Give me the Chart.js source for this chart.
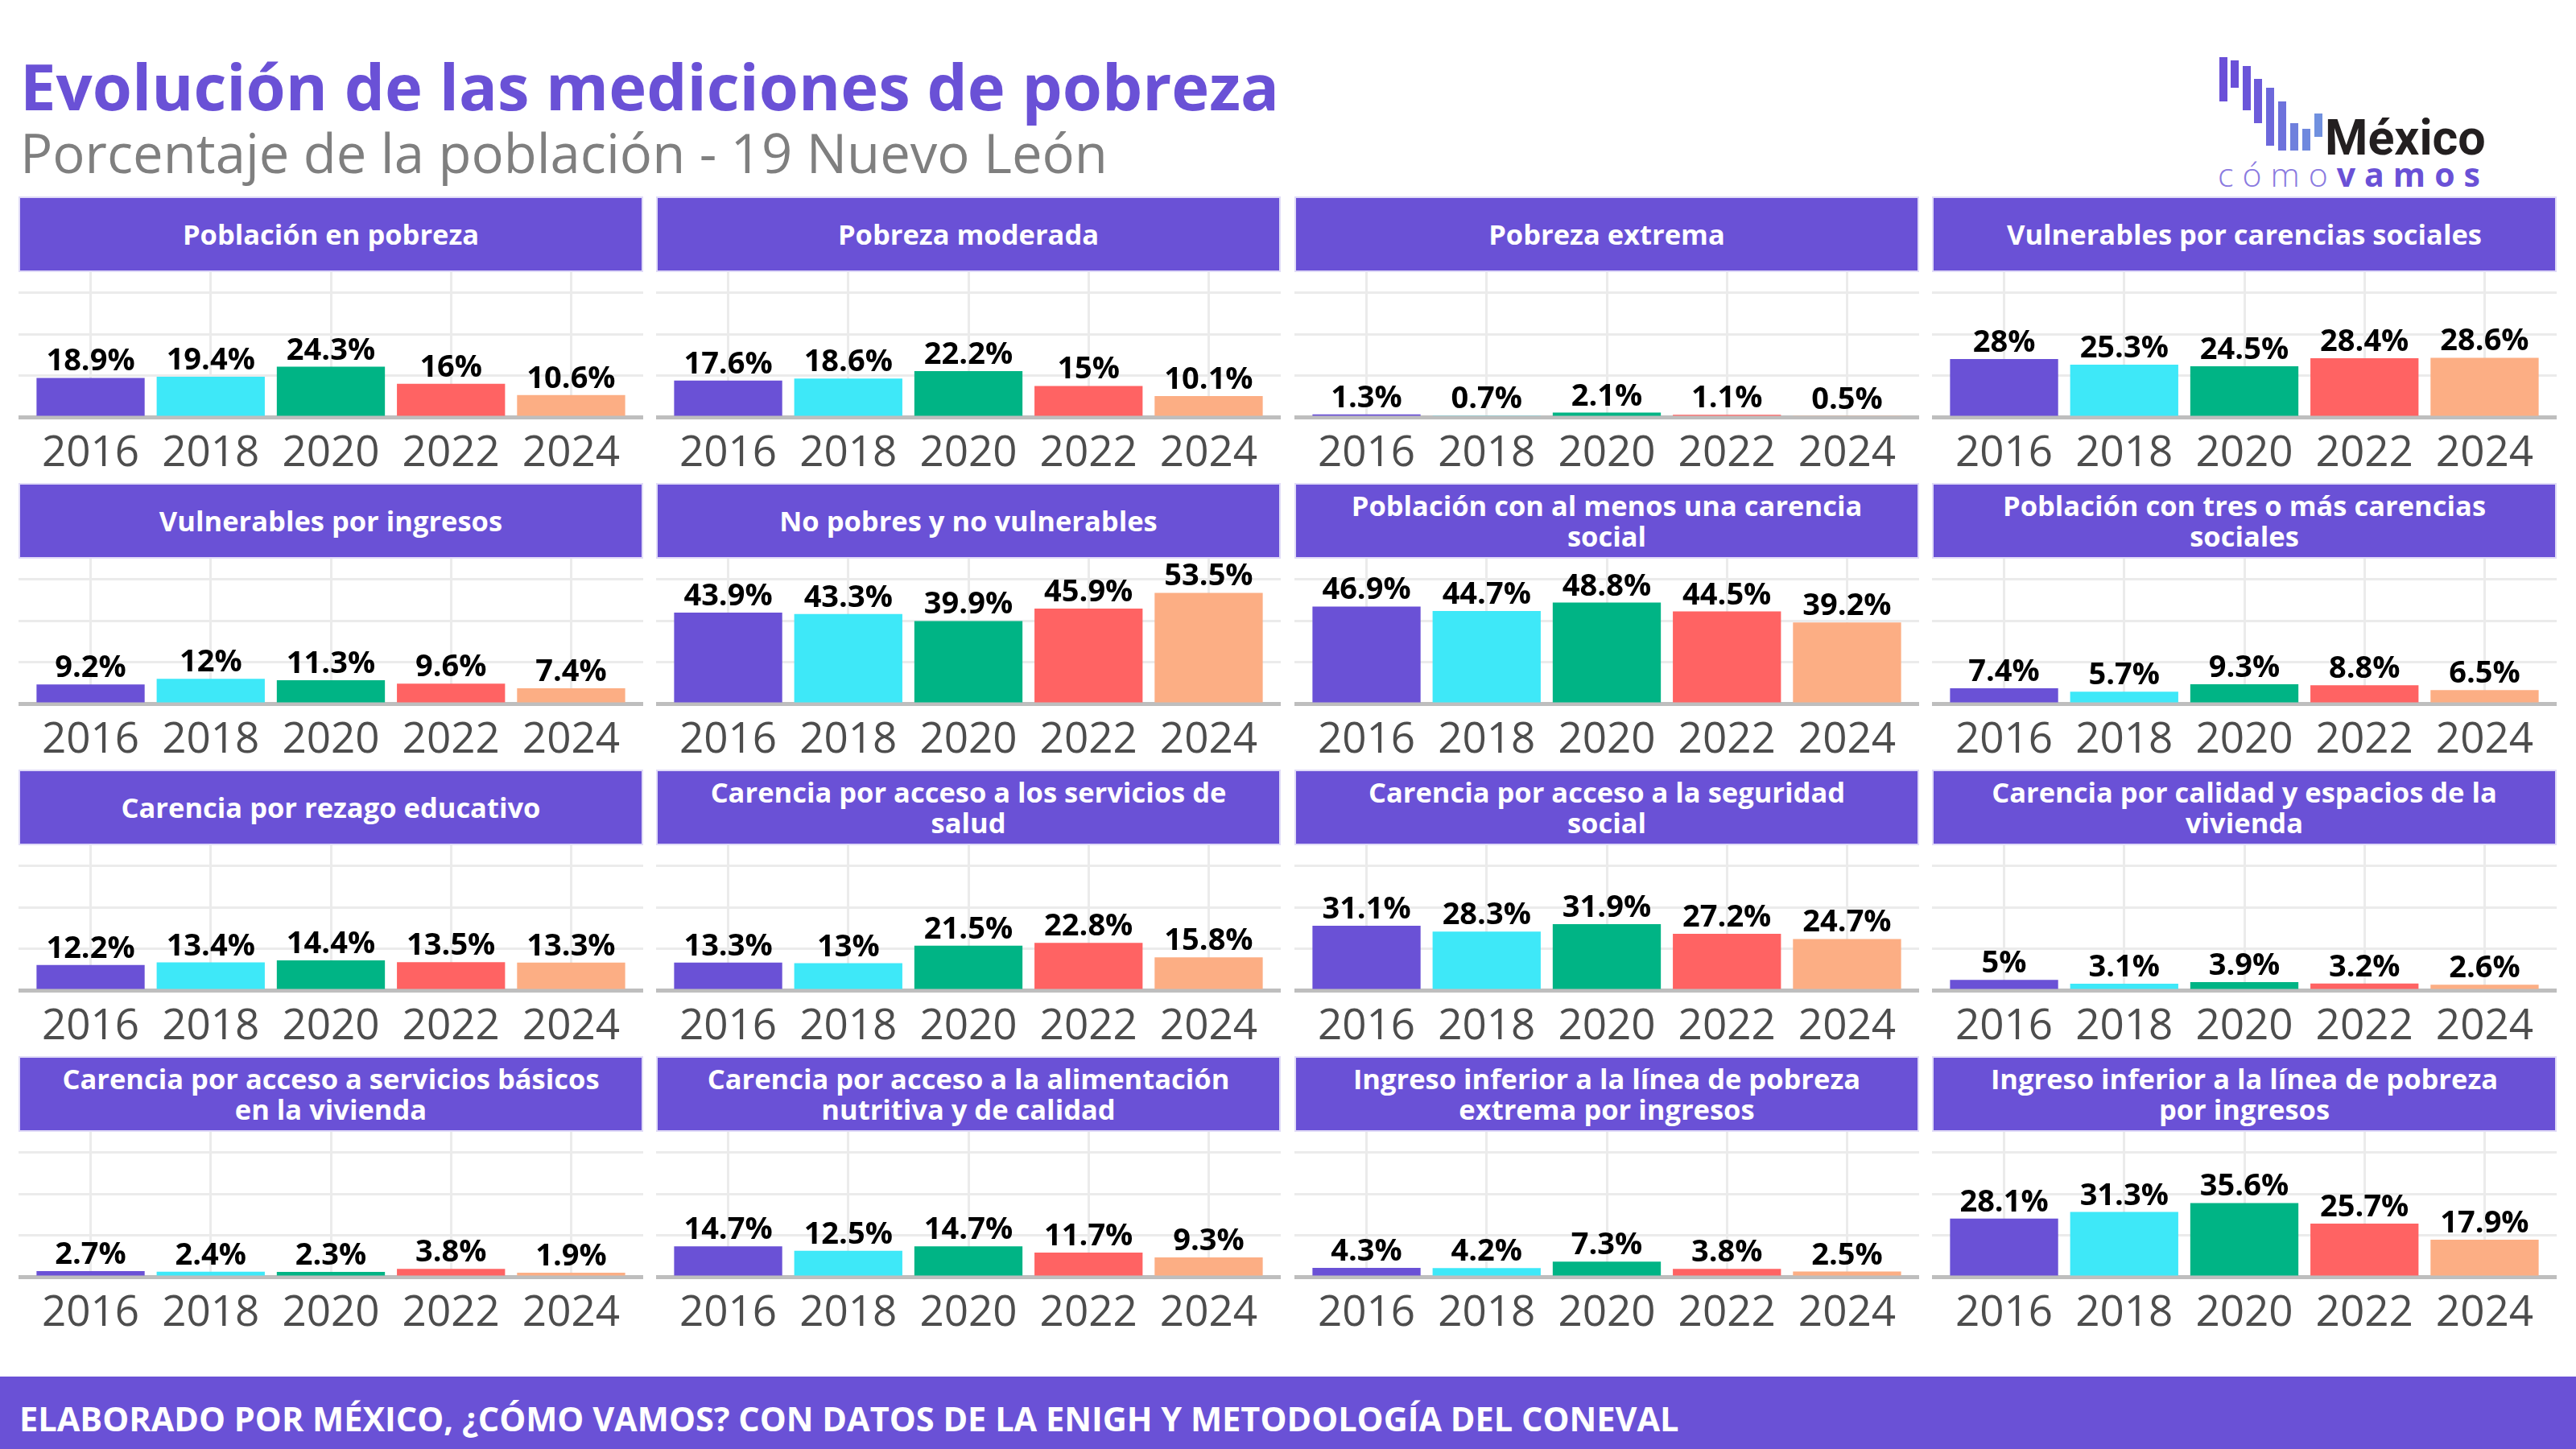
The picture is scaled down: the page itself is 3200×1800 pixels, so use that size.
<!DOCTYPE html>
<html>
<head>
<meta charset="utf-8">
<script src="https://cdn.jsdelivr.net/npm/chart.js@4/dist/chart.umd.min.js"></script>
<style>
html,body{margin:0;padding:0;background:#fff;}
body{width:3200px;height:1800px;position:relative;overflow:hidden;font-family:"Open Sans",sans-serif;}
.abs{position:absolute;white-space:nowrap;}
#title{left:25px;top:66px;font-size:79.5px;line-height:80px;font-weight:700;color:#6a51d6;}
#subtitle{left:25px;top:156px;font-size:67px;line-height:67px;font-weight:400;color:#7f7f7f;}
.hdr{position:absolute;width:776px;height:94px;box-sizing:border-box;background:#6a51d6;border:2px solid #e0dbf7;color:#fff;font-weight:700;font-size:34.5px;line-height:38px;display:flex;flex-direction:column;align-items:center;justify-content:center;text-align:center;}
.cv{position:absolute;}
#footer{left:0;top:1710px;width:3200px;height:90px;background:#6a51d6;}
#footer span{position:absolute;left:24px;top:31px;font-size:41.5px;line-height:42px;font-weight:700;color:#fff;}
.lbar{position:absolute;width:10px;}
#mx{left:2888px;top:141px;font-family:Roboto,"Open Sans",sans-serif;font-size:61px;line-height:61px;font-weight:700;color:#231f20;}
#cv{left:2755px;top:196px;font-size:41px;line-height:41px;letter-spacing:11px;}
#cv .a{color:#8a7ae0;font-weight:300;}
#cv .b{color:#6a51d6;font-weight:700;}
</style>
</head>
<body>
<div id="title" class="abs">Evolución de las mediciones de pobreza</div>
<div id="subtitle" class="abs">Porcentaje de la población - 19 Nuevo León</div>

<div id="logo"></div>
<div id="mx" class="abs">México</div>
<div id="cv" class="abs"><span class="a">cómo</span><span class="b">vamos</span></div>

<div id="footer" class="abs"><span>ELABORADO POR MÉXICO, ¿CÓMO VAMOS? CON DATOS DE LA ENIGH Y METODOLOGÍA DEL CONEVAL</span></div>

<script>
// ---- data ----
const years = ['2016', '2018', '2020', '2022', '2024'];

const poblacionEnPobreza        = [18.9, 19.4, 24.3, 16, 10.6];
const pobrezaModerada           = [17.6, 18.6, 22.2, 15, 10.1];
const pobrezaExtrema            = [1.3, 0.7, 2.1, 1.1, 0.5];
const vulnerablesCarencias      = [28, 25.3, 24.5, 28.4, 28.6];
const vulnerablesIngresos       = [9.2, 12, 11.3, 9.6, 7.4];
const noPobresNoVulnerables     = [43.9, 43.3, 39.9, 45.9, 53.5];
const alMenosUnaCarencia        = [46.9, 44.7, 48.8, 44.5, 39.2];
const tresOMasCarencias         = [7.4, 5.7, 9.3, 8.8, 6.5];
const rezagoEducativo           = [12.2, 13.4, 14.4, 13.5, 13.3];
const serviciosSalud            = [13.3, 13, 21.5, 22.8, 15.8];
const seguridadSocial           = [31.1, 28.3, 31.9, 27.2, 24.7];
const calidadEspaciosVivienda   = [5, 3.1, 3.9, 3.2, 2.6];
const serviciosBasicosVivienda  = [2.7, 2.4, 2.3, 3.8, 1.9];
const alimentacion              = [14.7, 12.5, 14.7, 11.7, 9.3];
const lineaPobrezaExtrema       = [4.3, 4.2, 7.3, 3.8, 2.5];
const lineaPobreza              = [28.1, 31.3, 35.6, 25.7, 17.9];

const panelTitles = [
  'Población en pobreza',
  'Pobreza moderada',
  'Pobreza extrema',
  'Vulnerables por carencias sociales',
  'Vulnerables por ingresos',
  'No pobres y no vulnerables',
  'Población con al menos una carencia social',
  'Población con tres o más carencias sociales',
  'Carencia por rezago educativo',
  'Carencia por acceso a los servicios de salud',
  'Carencia por acceso a la seguridad social',
  'Carencia por calidad y espacios de la vivienda',
  'Carencia por acceso a servicios básicos en la vivienda',
  'Carencia por acceso a la alimentación nutritiva y de calidad',
  'Ingreso inferior a la línea de pobreza extrema por ingresos',
  'Ingreso inferior a la línea de pobreza por ingresos'
];
const panelValues = [
  poblacionEnPobreza, pobrezaModerada, pobrezaExtrema, vulnerablesCarencias,
  vulnerablesIngresos, noPobresNoVulnerables, alMenosUnaCarencia, tresOMasCarencias,
  rezagoEducativo, serviciosSalud, seguridadSocial, calidadEspaciosVivienda,
  serviciosBasicosVivienda, alimentacion, lineaPobrezaExtrema, lineaPobreza
];
const yGridValues = [0, 20, 40, 60];

// ---- styles / layout ----
const barColors = ['#6a51d6', '#3ee8f8', '#00b485', '#ff6363', '#fcae84'];
const colLefts = [23, 815, 1608, 2400];
const rowTops = [244, 600, 956, 1312];
const PANEL_W = 776, HDR_H = 94, CANVAS_H = 262;

// logo bars (decorative)
const logoBars = [[2757,71,126],[2771,75,109],[2786,82,137],[2800,98,153],[2815,109,181],[2830,126,187],[2845,153,187],[2860,160,187],[2875,141,170]];
const logoCols = ['#6a4fd8','#6a4fd8','#6b55d9','#6d5bda','#6d68db','#6e72dc','#6f80dd','#6f88de','#7090df'];
const logo = document.getElementById('logo');
logoBars.forEach((b, i) => {
  const d = document.createElement('div');
  d.className = 'lbar';
  d.style.left = b[0] + 'px'; d.style.top = b[1] + 'px'; d.style.height = (b[2] - b[1]) + 'px';
  d.style.background = logoCols[i];
  logo.appendChild(d);
});

function wrapTitle(s, width) {
  const words = s.split(' '); const lines = []; let cur = '';
  for (const w of words) {
    if (cur && (cur + ' ' + w).length > width) { lines.push(cur); cur = w; }
    else cur = cur ? cur + ' ' + w : w;
  }
  lines.push(cur);
  return lines;
}

const valueLabels = {
  id: 'valueLabels',
  afterDatasetsDraw(chart) {
    const ctx = chart.ctx;
    const meta = chart.getDatasetMeta(0);
    const data = chart.data.datasets[0].data;
    ctx.save();
    ctx.font = 'bold 38px "Open Sans"';
    ctx.fillStyle = '#000';
    ctx.textAlign = 'center';
    ctx.textBaseline = 'alphabetic';
    meta.data.forEach((bar, i) => {
      ctx.fillText(String(data[i].y) + '%', bar.x, bar.y - 9);
    });
    ctx.restore();
  }
};

panelValues.forEach((vals, k) => {
  const left = colLefts[k % 4], top = rowTops[Math.floor(k / 4)];
  const hdr = document.createElement('div');
  hdr.className = 'hdr';
  hdr.style.left = left + 'px'; hdr.style.top = top + 'px';
  wrapTitle(panelTitles[k], 40).forEach(line => {
    const s = document.createElement('div'); s.textContent = line; hdr.appendChild(s);
  });
  document.body.appendChild(hdr);

  const c = document.createElement('canvas');
  c.className = 'cv';
  c.width = PANEL_W; c.height = CANVAS_H;
  c.style.left = left + 'px'; c.style.top = (top + HDR_H) + 'px';
  c.style.width = PANEL_W + 'px'; c.style.height = CANVAS_H + 'px';
  document.body.appendChild(c);

  new Chart(c, {
    type: 'bar',
    data: {
      datasets: [{
        data: vals.map((v, i) => ({ x: i + 1, y: v })),
        backgroundColor: barColors,
        borderWidth: 0,
        categoryPercentage: 1,
        barPercentage: 0.9
      }]
    },
    options: {
      responsive: false,
      animation: false,
      devicePixelRatio: 1,
      layout: { padding: 0 },
      plugins: { legend: { display: false }, tooltip: { enabled: false }, title: { display: false } },
      scales: {
        x: {
          type: 'linear',
          offset: false,
          min: 0.4, max: 5.6,
          afterBuildTicks: s => { s.ticks = years.map((y, i) => ({ value: i + 1 })); },
          afterFit: s => { s.height = 82; },
          ticks: {
            callback: (v, i) => years[i],
            font: { family: 'Open Sans', size: 53 },
            color: '#4d4d4d',
            padding: 14,
            maxRotation: 0,
            autoSkip: false
          },
          grid: { color: '#ebebeb', lineWidth: 3, drawTicks: false, offset: false },
          border: { display: true, color: '#bebebe', width: 5 }
        },
        y: {
          min: 0, max: 70,
          afterBuildTicks: s => { s.ticks = yGridValues.map(v => ({ value: v })); },
          ticks: { display: false },
          grid: { color: '#ebebeb', lineWidth: 3, drawTicks: false },
          border: { display: false }
        }
      }
    },
    plugins: [valueLabels]
  });
});
</script>
</body>
</html>
